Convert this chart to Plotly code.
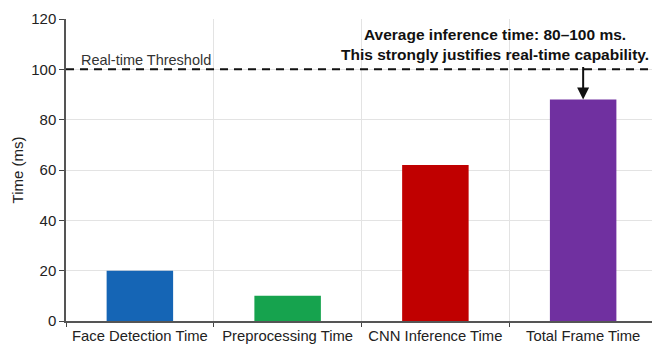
import plotly.graph_objects as go

# Per-stage timing data (ms)
stages = ["Face Detection Time", "Preprocessing Time", "CNN Inference Time", "Total Frame Time"]
times_ms = [20, 10, 62, 88]
bar_colors = ["#1565b5", "#16a34e", "#c00000", "#7030a0"]
threshold_ms = 100
y_ticks = [0, 20, 40, 60, 80, 100, 120]

FONT = "Liberation Sans, Arial, Helvetica, sans-serif"

fig = go.Figure(
    go.Bar(
        x=stages,
        y=times_ms,
        marker=dict(color=bar_colors, line=dict(width=0)),
        width=0.45,
        showlegend=False,
    )
)

# Real-time threshold line
fig.add_shape(
    type="line", xref="paper", x0=0, x1=1, yref="y", y0=threshold_ms, y1=threshold_ms,
    line=dict(color="#111111", width=2, dash="8px,6px"), layer="above",
)
fig.add_annotation(
    xref="paper", x=0.022, xanchor="left", yref="y", y=threshold_ms, yanchor="bottom",
    yshift=-1, text="Real-time Threshold", showarrow=False,
    font=dict(family=FONT, size=14.5, color="#333333"),
)

# Callout over the total frame time bar
fig.add_annotation(
    xref="paper", x=0.732, yref="paper", y=0.915, xanchor="center", yanchor="middle",
    text="<b>Average inference time: 80–100 ms.</b><br><b>This strongly justifies real-time capability.</b>",
    showarrow=False, align="center",
    font=dict(family=FONT, size=15.5, color="#111111"),
)
fig.add_annotation(
    x=stages[3], y=times_ms[3], xref="x", yref="y", text="",
    showarrow=True, arrowhead=2, arrowsize=1.2, arrowwidth=2, arrowcolor="#111111",
    ax=0, ay=-34, standoff=0,
)

fig.update_layout(
    width=652, height=347,
    margin=dict(l=66, r=0, t=19, b=26),
    paper_bgcolor="white", plot_bgcolor="white",
    font=dict(family=FONT, size=14, color="#333333"),
    bargap=0.55,
    xaxis=dict(
        type="category", range=[-0.5, 3.466], tickson="boundaries",
        showgrid=True, gridcolor="#e3e3e3", gridwidth=1,
        ticks="outside", ticklen=4, tickcolor="#444444",
        showline=True, linecolor="#555555", linewidth=1.5,
        tickfont=dict(size=14.8, color="#222222"),
    ),
    yaxis=dict(
        range=[0, 120], tickvals=y_ticks,
        showgrid=True, gridcolor="#e3e3e3", gridwidth=1,
        ticks="outside", ticklen=5, tickcolor="#444444",
        showline=True, linecolor="#555555", linewidth=1.5,
        zeroline=False,
        tickfont=dict(size=15, color="#222222"),
        title=dict(text="Time (ms)", font=dict(size=15, color="#222222"), standoff=4),
    ),
)

fig.write_html("out.html")
